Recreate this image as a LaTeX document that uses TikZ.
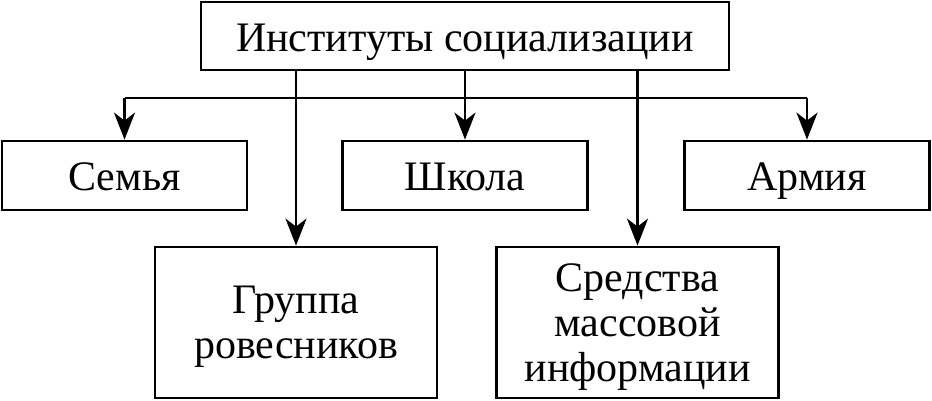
\documentclass[tikz,border=0pt]{standalone}
\usepackage{fontspec}
\setmainfont{Liberation Serif}
\usetikzlibrary{arrows.meta}
\usetikzlibrary{positioning}
\tikzstyle{block} = [draw, rectangle, line width=2.8pt, inner sep=0pt,
    align=center, text depth=0pt, font=\fontsize{42}{45}\selectfont]
\tikzstyle{small block} = [block, text height=30pt, minimum width=245, minimum height=69]
\tikzstyle{big block} = [block, minimum width=282, minimum height=151]
\tikzstyle{bus} = [coordinate]

\begin{document}
\begin{tikzpicture}[x=1pt, y=-1pt, >={Stealth[length=27pt,width=21pt,inset=8pt]},
    line width=2.8pt]
    \useasboundingbox (0,0) rectangle (932,400);
    % We start by placing the blocks
    \node [block, text height=30pt, minimum width=528, minimum height=68] (inst) at (465,36) {Институты социализации};
    \node [small block] (semya) at (124.5,175.5) {Семья};
    \node [small block] (shkola) at (465,175.5) {Школа};
    \node [small block] (armiya) at (807,175.5) {Армия};
    \node [big block, text depth=-8pt] (gruppa) at (296,322.5) {Группа\\ровесников};
    \node [big block] (smi) at (637.5,322.5) {Средства\\массовой\\информации};

    % Once the nodes are placed, connecting them is easy.
    \node [bus] (busL) at (semya.north |- 0,98) {};
    \node [bus] (busR) at (armiya.north |- 0,98) {};
    \draw (busL) -- (busR);
    \draw [->] (busL) -- (semya.north);
    \draw [->] (busR) -- (armiya.north);
    \draw [->] (inst.south) -- (shkola.north);
    \draw [->] (inst.south -| gruppa.north) -- (gruppa.north);
    \draw [->] (inst.south -| smi.north) -- (smi.north);
\end{tikzpicture}
\end{document}
